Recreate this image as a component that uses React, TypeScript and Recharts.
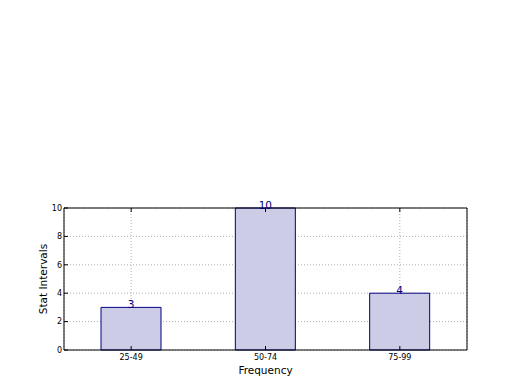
import { BarChart, Bar, XAxis, YAxis, CartesianGrid, LabelList } from "recharts";

const categories = ["25-49", "50-74", "75-99"];
const counts = [3, 10, 4];
const yTicks = [0, 2, 4, 6, 8, 10];

const data = categories.map((c, i) => ({ name: c, value: counts[i] }));

const FONT = "'DejaVu Sans', sans-serif";
const NAVY = "#000080";

export default function App() {
  return (
    <div style={{ position: "absolute", left: 0, top: 0, width: 520, height: 390, background: "#fff" }}>
      <BarChart
        width={520}
        height={390}
        data={data}
        margin={{ top: 207, right: 52, bottom: 0, left: 0 }}
        style={{ fontFamily: FONT }}
      >
        <CartesianGrid stroke="#b0b0b0" strokeDasharray="1 2" />
        <XAxis
          dataKey="name"
          height={40}
          stroke="#000"
          tickSize={-4}
          tickMargin={8}
          tick={{ fontSize: 8, fill: "#000" }}
          interval={0}
          label={{
            content: ({ viewBox }: any) => (
              <text
                x={viewBox.x + viewBox.width / 2}
                y={viewBox.y + 24}
                textAnchor="middle"
                fontSize={10.5}
                fontFamily={FONT}
                fill="#000"
              >
                Frequency
              </text>
            ),
          }}
        />
        <XAxis
          xAxisId="top"
          dataKey="name"
          orientation="top"
          height={1}
          stroke="#000"
          tickSize={-4}
          tickFormatter={() => ""}
          interval={0}
        />
        <YAxis
          width={64}
          domain={[0, 10]}
          ticks={yTicks}
          stroke="#000"
          tickSize={-4}
          tickMargin={6}
          tick={{ fontSize: 8, fill: "#000" }}
          label={{
            content: ({ viewBox }: any) => {
              const x = viewBox.x + 47;
              const y = viewBox.y + viewBox.height / 2;
              return (
                <text
                  x={x}
                  y={y}
                  transform={`rotate(-90 ${x} ${y})`}
                  textAnchor="middle"
                  fontSize={10.5}
                  fontFamily={FONT}
                  fill="#000"
                >
                  Stat Intervals
                </text>
              );
            },
          }}
        />
        <YAxis
          yAxisId="right"
          orientation="right"
          width={1}
          domain={[0, 10]}
          ticks={yTicks}
          stroke="#000"
          tickSize={-4}
          tickFormatter={() => ""}
        />
        <Bar dataKey="value" fill="#ccccE6" stroke={NAVY} strokeWidth={1} barSize={60} isAnimationActive={false}>
          <LabelList dataKey="value" position="top" offset={-1} fill={NAVY} fontSize={10.5} fontFamily={FONT} />
        </Bar>
      </BarChart>
    </div>
  );
}
